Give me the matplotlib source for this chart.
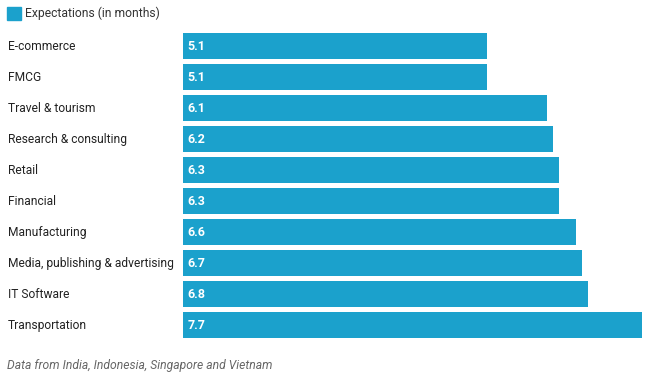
import matplotlib.pyplot as plt
from matplotlib.patches import Rectangle

plt.rcParams["font.family"] = ["Roboto", "DejaVu Sans"]

categories = [
    "E-commerce",
    "FMCG",
    "Travel & tourism",
    "Research & consulting",
    "Retail",
    "Financial",
    "Manufacturing",
    "Media, publishing & advertising",
    "IT Software",
    "Transportation",
]
months = [5.1, 5.1, 6.1, 6.2, 6.3, 6.3, 6.6, 6.7, 6.8, 7.7]

BAR_COLOR = "#1ba1cc"
W, H = 648, 378

fig = plt.figure(figsize=(W / 100, H / 100), dpi=100)
ax = fig.add_axes([183 / W, 1 - 340.5 / H, (642 - 183) / W, 310 / H])

ypos = list(range(len(categories)))
ax.barh(ypos, months, height=0.87, color=BAR_COLOR)
ax.set_xlim(0, 7.7)
ax.set_ylim(len(categories) - 0.5, -0.5)
ax.axis("off")

for y, cat, val in zip(ypos, categories, months):
    ax.text(0.07, y + 0.03, f"{val:.1f}", color="white", fontsize=9,
            fontweight="bold", va="center", ha="left")
    ax.annotate(cat, xy=(8 / W, y + 0.03), xycoords=("figure fraction", "data"),
                fontsize=8.65, color="#222222", va="center", ha="left")

# legend
fig.patches.append(Rectangle((7 / W, 1 - 20 / H), 14 / W, 13 / H,
                             transform=fig.transFigure, color=BAR_COLOR))
fig.text(25 / W, 1 - 13.5 / H, "Expectations (in months)", fontsize=8.7,
         color="#333333", va="center", ha="left")

fig.text(7 / W, 1 - 366 / H, "Data from India, Indonesia, Singapore and Vietnam",
         fontsize=8.7, style="italic", color="#666666", va="center", ha="left")

fig.savefig("out.png", dpi=100)
